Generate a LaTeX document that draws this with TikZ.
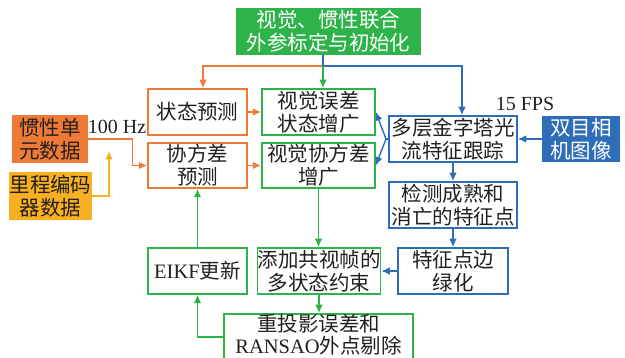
\documentclass[tikz,border=0pt]{standalone}
\usepackage{fontspec}
\setmainfont{Liberation Serif}
\newfontfamily\cjk{Noto Sans CJK SC}
\usetikzlibrary{arrows.meta,calc}
\definecolor{cgreen}{HTML}{2DB34A}
\definecolor{corange}{HTML}{EF7A35}
\definecolor{cyellow}{HTML}{F8B022}
\definecolor{cblue}{HTML}{2E6DB7}
\definecolor{ctext}{HTML}{231F20}
\tikzset{
  txt/.style={inner sep=0pt, align=center, text=ctext, font=\cjk\fontsize{20.5}{23}\selectfont},
  box/.style={txt, draw, line width=1.5pt},
  obox/.style={box, draw=corange},
  gbox/.style={box, draw=cgreen},
  bbox/.style={box, draw=cblue},
  lbl/.style={inner sep=0pt, text=ctext, font=\rmfamily\fontsize{20}{23}\selectfont},
  conn/.style={line width=1.4pt, -{Latex[length=8.5pt,width=7.5pt]}},
  oline/.style={conn, draw=corange},
  gline/.style={conn, draw=cgreen},
  bline/.style={conn, draw=cblue},
  yline/.style={conn, draw=cyellow},
}
\begin{document}
\begin{tikzpicture}[x=1pt,y=-1pt]
\useasboundingbox (0,0) rectangle (625,358);
\clip (0,0) rectangle (625,358);

% nodes
\node[box, draw=cgreen, fill=cgreen, text=white, minimum width=183pt, minimum height=45pt] (top) at (328.5,31.5) {视觉、惯性联合\\外参标定与初始化};
\node[obox, minimum width=99pt, minimum height=46pt] (state) at (197.5,112) {状态预测};
\node[obox, minimum width=99pt, minimum height=45pt] (cov) at (197.5,165.5) {协方差\\预测};
\node[gbox, minimum width=113pt, minimum height=46pt] (visErr) at (318.5,112) {视觉误差\\状态增广};
\node[gbox, minimum width=113pt, minimum height=45pt] (visCov) at (318.5,165.5) {视觉协方差\\增广};
\node[bbox, minimum width=128pt, minimum height=46pt] (pyr) at (453,139) {多层金字塔光\\流特征跟踪};
\node[box, draw=cblue, fill=cblue, text=white, minimum width=76pt, minimum height=44pt] (cam) at (581,139) {双目相\\机图像};
\node[box, draw=corange, fill=corange, minimum width=74pt, minimum height=46pt] (imu) at (50,139) {惯性单\\元数据};
\node[box, draw=cyellow, fill=cyellow, minimum width=75pt, minimum height=46pt] (odo) at (50.5,196) {里程编码\\器数据};
\node[bbox, minimum width=128pt, minimum height=46pt] (detect) at (453,205) {检测成熟和\\消亡的特征点};
\node[bbox, minimum width=110pt, minimum height=46pt] (edge) at (453,271) {特征点边\\绿化};
\node[gbox, minimum width=99pt, minimum height=46pt] (eikf) at (197.5,271) {{\rmfamily EIKF}更新};
\node[gbox, minimum width=118pt, minimum height=46pt] (add) at (319,271) {添加共视帧的\\多状态约束};
\node[gbox, minimum width=189pt, minimum height=50pt] (reproj) at (318.5,339) {};
\node[txt, font=\cjk\fontsize{20.5}{22}\selectfont] (reprojt) at (318.5,335) {重投影误差和\\{\rmfamily RANSAO}外点剔除};

\node[lbl] (hz) at (117,127) {100 Hz};
\node[lbl] (fps) at (525,104) {15 FPS};

% helper coordinates
\coordinate (j) at (323,66);
\coordinate (pt) at ($(pyr.north)+(9,0)$);
\coordinate (st) at ($(state.north)+(5.5,0)$);
\coordinate (split) at (386,139);
\coordinate (odoend) at (109,151);

% connectors
\draw[oline] (j) -| (st);
\draw[bline] (top.south -| j) -- (j) -| (pt);
\draw[gline] (j) -- (j |- visErr.north);
\draw[oline] (state.east) -- (visErr.west);
\draw[oline] (cov.east) -- (visCov.west);
\draw[oline] (imu.east) -- ++(45,0) |- (cov.west);
\draw[yline] (odo.east) -| (odoend);
\draw[bline] (cam.west) -- (pyr.east);
\draw[line width=1.4pt, draw=cblue] (pyr.west) -- (split);
\draw[bline] (split) -- (visErr.east);
\draw[bline] (split) -- (visCov.east);
\draw[bline] (pyr.south) -- (detect.north);
\draw[bline] (detect.south) -- (edge.north);
\draw[bline] (edge.west) -- (add.east);
\draw[gline] (visCov.south) -- (visCov.south |- add.north);
\draw[gline] (add.south) -- (add.south |- reproj.north);
\draw[gline] (reproj.west |- 0,337) -| (eikf.south);
\draw[gline] (eikf.north) -- (cov.south);
\end{tikzpicture}
\end{document}
